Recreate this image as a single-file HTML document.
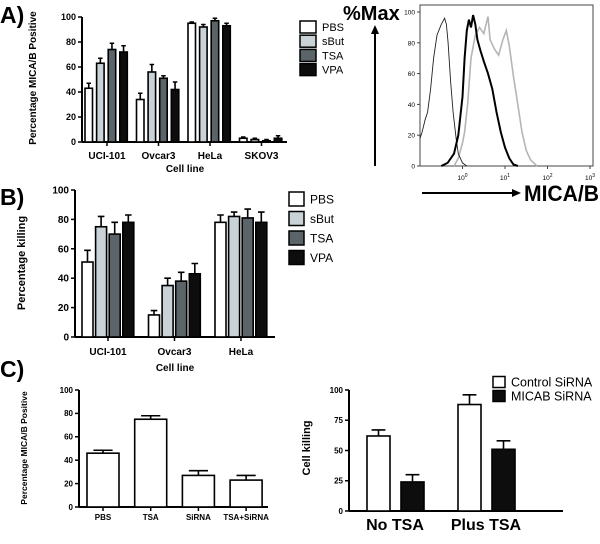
<!DOCTYPE html>
<html><head><meta charset="utf-8">
<style>
html,body{margin:0;padding:0;background:#fff;}
svg{display:block;font-family:"Liberation Sans",Arial,sans-serif;}
</style></head>
<body>
<svg id="fig" width="600" height="544" viewBox="0 0 600 544" xmlns="http://www.w3.org/2000/svg">
<text x="0" y="23" font-size="23" font-weight="bold">A)</text>
<text x="0" y="205" font-size="23" font-weight="bold">B)</text>
<text x="0" y="377" font-size="23" font-weight="bold">C)</text>
</svg>
<script>
// ---------- data ----------
var aCategories = ["UCI-101","Ovcar3","HeLa","SKOV3"];
var aSeriesNames = ["PBS","sBut","TSA","VPA"];
var aValues = [[43,63,74,72],[34,56,51,42],[95,92,97,93],[3,2,1,3]];
var aErrors = [[4,4,5,5],[5,6,2,6],[1,2,2,2],[1,1,1,2]];
var aTicks = [0,20,40,60,80,100];

var bCategories = ["UCI-101","Ovcar3","HeLa"];
var bValues = [[51,75,70,78],[15,35,38,43],[78,82,81,78]];
var bErrors = [[8,7,8,5],[3,5,6,7],[5,3,6,7]];
var bTicks = [0,20,40,60,80,100];

var cCategories = ["PBS","TSA","SiRNA","TSA+SiRNA"];
var cValues = [46,75,27,23];
var cErrors = [2.5,3,4,4];
var cTicks = [0,20,40,60,80,100];

var dCategories = ["No TSA","Plus TSA"];
var dSeriesNames = ["Control SiRNA","MICAB SiRNA"];
var dValues = [[62,24],[88,51]];
var dErrors = [[5,6],[8,7]];
var dTicks = [0,25,50,75,100];

// histogram: [log10(MICA/B), %Max]
var histPBS = [[-1,18],[-0.95,22],[-0.88,30],[-0.82,35],[-0.75,50],[-0.68,70],[-0.6,85],[-0.5,92],[-0.42,96],[-0.38,92],[-0.34,80],[-0.28,55],[-0.22,35],[-0.15,18],[-0.1,8],[0,2],[0.1,0]];
var histBlack = [[-0.5,0],[-0.35,2],[-0.2,8],[-0.1,20],[0,45],[0.05,70],[0.1,88],[0.15,95],[0.2,90],[0.25,98],[0.3,92],[0.35,82],[0.42,75],[0.5,68],[0.6,60],[0.7,50],[0.8,35],[0.9,22],[1.0,12],[1.1,5],[1.2,1],[1.3,0]];
var histGray = [[-0.2,0],[-0.1,5],[0,15],[0.05,22],[0.12,40],[0.2,70],[0.3,85],[0.4,90],[0.5,86],[0.6,97],[0.65,82],[0.75,76],[0.85,72],[0.95,82],[1.03,88],[1.1,78],[1.2,58],[1.3,40],[1.4,22],[1.5,10],[1.6,4],[1.75,0]];
var histXTicks = [0,1,2,3];
var histYTicks = [0,20,40,60,80,100];

var colors = ["#ffffff","#c9d3d7","#5b6468","#0d0d0d"];
var NS = "http://www.w3.org/2000/svg";
var svg = document.getElementById("fig");

function el(tag, attrs, parent){
  var e = document.createElementNS(NS, tag);
  for (var k in attrs) e.setAttribute(k, attrs[k]);
  (parent||svg).appendChild(e);
  return e;
}
function txt(x,y,s,size,weight,anchor,parent){
  var t = el("text",{x:x,y:y,"font-size":size,"font-weight":weight||"normal","text-anchor":anchor||"start"},parent);
  t.textContent = s;
  return t;
}

function yAxis(x0, yTop, yBot, ticks, max, fs, name){
  var sc = function(v){ return yBot - (v/max)*(yBot-yTop); };
  var g = el("g",{});
  
  
  el("line",{x1:x0,y1:yTop,x2:x0,y2:yBot,stroke:"#000","stroke-width":2},g);
  ticks.forEach(function(t){
    el("line",{x1:x0-4,y1:sc(t),x2:x0,y2:sc(t),stroke:"#000","stroke-width":1.5},g);
    var l = txt(x0-6, sc(t)+fs*0.35, String(t), fs, "bold", "end", g);
    
    
  });
  return sc;
}

function bar(x, w, y0, y1, fill, err, name){
  var r = el("rect",{x:x,y:y1,width:w,height:Math.max(0,y0-y1),fill:fill,stroke:"#000","stroke-width":1.6});
  
  
  var e = el("path",{d:"M"+(x+w/2)+" "+y1+"V"+err+"M"+(x+w/2-w*0.3)+" "+err+"H"+(x+w/2+w*0.3),stroke:"#000","stroke-width":1.6,fill:"none"});
  
  
}

function legendEntry(x, y, w, h, fill, label, fs){
  var g = el("g",{});
  
  
  el("rect",{x:x,y:y-h/2,width:w,height:h,fill:fill,stroke:"#000","stroke-width":1.5},g);
  txt(x+w+6, y+fs*0.36, label, fs, "normal", "start", g);
}

function vTitle(x, y, s, fs, name){
  var t = txt(0,0,s,fs,"bold","middle");
  t.setAttribute("transform","translate("+x+","+y+") rotate(-90)");
  
  
}

// ---------- Panel A ----------
(function(){
  var x0=82, yTop=17, yBot=142;
  var sc = yAxis(x0, yTop, yBot, aTicks, 100, 9, "a-y-axis");
  el("line",{x1:x0,y1:yBot,x2:287,y2:yBot,stroke:"#000","stroke-width":2});
  aCategories.forEach(function(c,i){
    var gx = 85 + i*51.5;
    aValues[i].forEach(function(v,j){
      bar(gx + j*11.6, 7.5, yBot, sc(v), colors[j], sc(v+aErrors[i][j]), "a-bar-"+c.toLowerCase()+"-"+aSeriesNames[j].toLowerCase());
    });
    var cx = gx + 22;
    el("line",{x1:cx,y1:yBot,x2:cx,y2:yBot+4,stroke:"#000","stroke-width":1.5});
    var l = txt(cx, 159, c, 10, "bold", "middle");
    
    
  });
  var xt = txt(185, 172, "Cell line", 10, "bold", "middle");
  
  
  vTitle(36, 78, "Percentage MICA/B Positive", 10, "a-y-axis-title");
  aSeriesNames.forEach(function(s,j){ legendEntry(300, 27+j*14.2, 16, 12, colors[j], s, 11); });
})();

// ---------- Histogram ----------
(function(){
  var L=420, R=593, T=5, B=166;
  var sx = function(lv){ return L + (lv+1)*42.5; };
  var sy = function(v){ return B - v/100*(B-12); };
  var f = el("rect",{x:L,y:T,width:R-L,height:B-T,fill:"none",stroke:"#444","stroke-width":1});
  
  
  histYTicks.forEach(function(t){
    el("line",{x1:L-3,y1:sy(t),x2:L,y2:sy(t),stroke:"#444","stroke-width":1});
    txt(L-5, sy(t)+2.5, String(t), 6.5, "normal", "end");
  });
  histXTicks.forEach(function(t){
    el("line",{x1:sx(t),y1:B,x2:sx(t),y2:B+3,stroke:"#444","stroke-width":1});
    var g = txt(sx(t), B+14, "10", 6.5, "normal", "middle");
    var sup = document.createElementNS(NS,"tspan");
    sup.setAttribute("dy","-3"); sup.setAttribute("font-size","5");
    sup.textContent = String(t);
    g.appendChild(sup);
  });
  function curve(data, stroke, w, name){
    var d = data.map(function(p,i){ return (i?"L":"M")+sx(p[0]).toFixed(1)+" "+sy(p[1]).toFixed(1); }).join("");
    var p = el("path",{d:d,fill:"none",stroke:stroke,"stroke-width":w});
    
    
  }
  curve(histGray, "#b5b5b5", 1.6, "histogram-gray-curve");
  curve(histPBS, "#222", 0.9, "histogram-pbs-curve");
  curve(histBlack, "#000", 2, "histogram-black-curve");
  var t1 = txt(343, 20, "%Max", 20, "bold", "start");
  
  
  el("line",{x1:375,y1:166,x2:375,y2:32,stroke:"#000","stroke-width":2});
  el("path",{d:"M371 34 L375 25 L379 34 Z",fill:"#000"});
  el("line",{x1:422,y1:193,x2:514,y2:193,stroke:"#000","stroke-width":2});
  el("path",{d:"M512 189 L521 193 L512 197 Z",fill:"#000"});
  var t2 = txt(524, 201, "MICA/B", 22, "bold", "start");
  t2.setAttribute("textLength","75");
  t2.setAttribute("lengthAdjust","spacingAndGlyphs");
  
  
})();

// ---------- Panel B ----------
(function(){
  var x0=75, yTop=190, yBot=337;
  var sc = yAxis(x0, yTop, yBot, bTicks, 100, 10, "b-y-axis");
  el("line",{x1:x0,y1:yBot,x2:275,y2:yBot,stroke:"#000","stroke-width":2});
  bCategories.forEach(function(c,i){
    var gx = 82 + i*66.5;
    bValues[i].forEach(function(v,j){
      bar(gx + j*13.6, 11, yBot, sc(v), colors[j], sc(v+bErrors[i][j]), "b-bar-"+c.toLowerCase()+"-"+aSeriesNames[j].toLowerCase());
    });
    var cx = gx + 26;
    el("line",{x1:cx,y1:yBot,x2:cx,y2:yBot+4,stroke:"#000","stroke-width":1.5});
    var l = txt(cx, 355, c, 10, "bold", "middle");
    
    
  });
  var xt = txt(175, 371, "Cell line", 10, "bold", "middle");
  
  
  vTitle(25, 263, "Percentage killing", 11, "b-y-axis-title");
  aSeriesNames.forEach(function(s,j){ legendEntry(289, 199+j*19.5, 15, 14, colors[j], s, 12); });
})();

// ---------- Panel C left ----------
(function(){
  var x0=79, yTop=390, yBot=507;
  var sc = yAxis(x0, yTop, yBot, cTicks, 100, 8, "c-left-y-axis");
  el("line",{x1:x0,y1:yBot,x2:268,y2:yBot,stroke:"#000","stroke-width":2});
  cCategories.forEach(function(c,i){
    var x = 87 + i*47.7;
    bar(x, 32, yBot, sc(cValues[i]), "#fff", sc(cValues[i]+cErrors[i]), "c-bar-"+c.toLowerCase());
    el("line",{x1:x+16,y1:yBot,x2:x+16,y2:yBot+4,stroke:"#000","stroke-width":1.5});
    var l = txt(x+16, 520, c, 8, "bold", "middle");
    
    
  });
  vTitle(27, 448, "Percentage MICA/B Positive", 8.5, "c-left-y-axis-title");
})();

// ---------- Panel C right ----------
(function(){
  var x0=349, yTop=390, yBot=511;
  var sc = yAxis(x0, yTop, yBot, dTicks, 100, 8, "c-right-y-axis");
  el("line",{x1:x0,y1:yBot,x2:563,y2:yBot,stroke:"#000","stroke-width":2});
  var dColors = ["#fff","#0d0d0d"];
  dCategories.forEach(function(c,i){
    var gx = 367 + i*91;
    dValues[i].forEach(function(v,j){
      bar(gx + j*34, 23, yBot, sc(v), dColors[j], sc(v+dErrors[i][j]), "d-bar-"+c.toLowerCase().replace(" ","-")+"-"+j);
    });
    var l = txt(gx+28, 530, c, 16, "bold", "middle");
    
    
  });
  vTitle(310, 448, "Cell killing", 11, "c-right-y-axis-title");
  dSeriesNames.forEach(function(s,j){ legendEntry(493, 382+j*14, 12, 11, dColors[j], s, 12.5); });
})();
</script>
</body></html>
